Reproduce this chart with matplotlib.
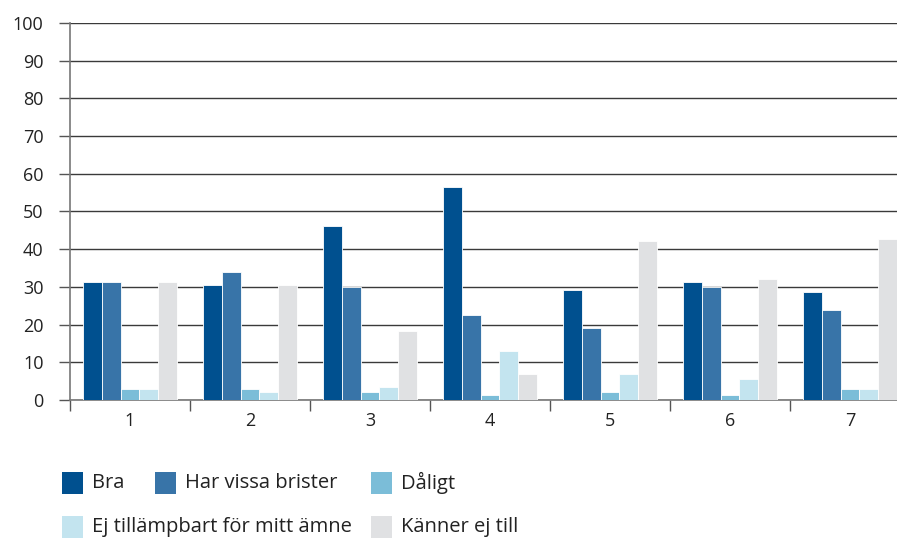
import matplotlib
matplotlib.use("Agg")
import matplotlib.pyplot as plt
from matplotlib.patches import Rectangle
import numpy as np

plt.rcParams['font.family'] = ['Open Sans', 'DejaVu Sans']

categories = ["1", "2", "3", "4", "5", "6", "7"]
series_names = ["Bra", "Har vissa brister", "Dåligt", "Ej tillämpbart för mitt ämne", "Känner ej till"]
bra = [31.2, 30.6, 46.2, 56.4, 29.3, 31.2, 28.6]
har_vissa = [31.2, 34.0, 29.9, 22.5, 19.1, 29.9, 23.8]
daligt = [2.8, 2.8, 2.1, 1.3, 2.1, 1.3, 2.8]
ej_tillampbart = [2.8, 2.1, 3.4, 13.0, 6.9, 5.5, 2.8]
kanner_ej = [31.2, 30.6, 18.3, 6.9, 42.2, 32.0, 42.8]
yticks = [0, 10, 20, 30, 40, 50, 60, 70, 80, 90, 100]

series = [bra, har_vissa, daligt, ej_tillampbart, kanner_ej]
colors = ["#00508F", "#3874A8", "#7BBDD8", "#C3E4EF", "#E0E1E3"]

W, H = 897, 541
fig = plt.figure(figsize=(W / 100, H / 100), dpi=100)
ax = fig.add_axes([70 / W, (H - 400) / H, 840 / W, 377 / H])

n = len(series)
bw = 0.158
x = np.arange(len(categories))
for i, (vals, c) in enumerate(zip(series, colors)):
    ax.bar(x + (i - (n - 1) / 2) * bw, vals, width=bw, color=c,
           edgecolor="white", linewidth=0.6, zorder=3)

ax.set_xlim(-0.5, len(categories) - 0.5)
ax.set_ylim(0, 100)
ax.set_yticks(yticks)
ax.set_yticklabels([str(t) for t in yticks], fontsize=13, color="#222222")
ax.yaxis.grid(True, color="#3a3a3a", linewidth=1.0, zorder=0)
ax.set_axisbelow(True)

ax.set_xticks(np.arange(len(categories) + 1) - 0.5)
ax.set_xticklabels([])
ax.set_xticks(x, minor=True)
ax.set_xticklabels(categories, minor=True, fontsize=13, color="#222222")
ax.tick_params(axis="x", which="major", length=8, width=1, color="#555555", direction="out")
ax.tick_params(axis="x", which="minor", length=0, pad=9)
ax.tick_params(axis="y", length=8, width=1, color="#555555", pad=11)

for s in ["top", "right"]:
    ax.spines[s].set_visible(False)
ax.spines["left"].set_color("#777777")
ax.spines["bottom"].set_color("#777777")
ax.spines["left"].set_linewidth(1.2)
ax.spines["bottom"].set_linewidth(1.2)

# legend (manual layout)
pos = [(62, 483), (155, 483), (371, 483), (62, 527), (371, 527)]
for (px, py), name, c in zip(pos, series_names, colors):
    fig.add_artist(Rectangle((px / W, (H - py - 11) / H), 21 / W, 22 / H,
                             transform=fig.transFigure, facecolor=c, edgecolor="none"))
    fig.text((px + 30) / W, (H - py) / H, name, fontsize=14.5, color="#222222",
             va="center", ha="left")

fig.savefig("out.png", dpi=100)
